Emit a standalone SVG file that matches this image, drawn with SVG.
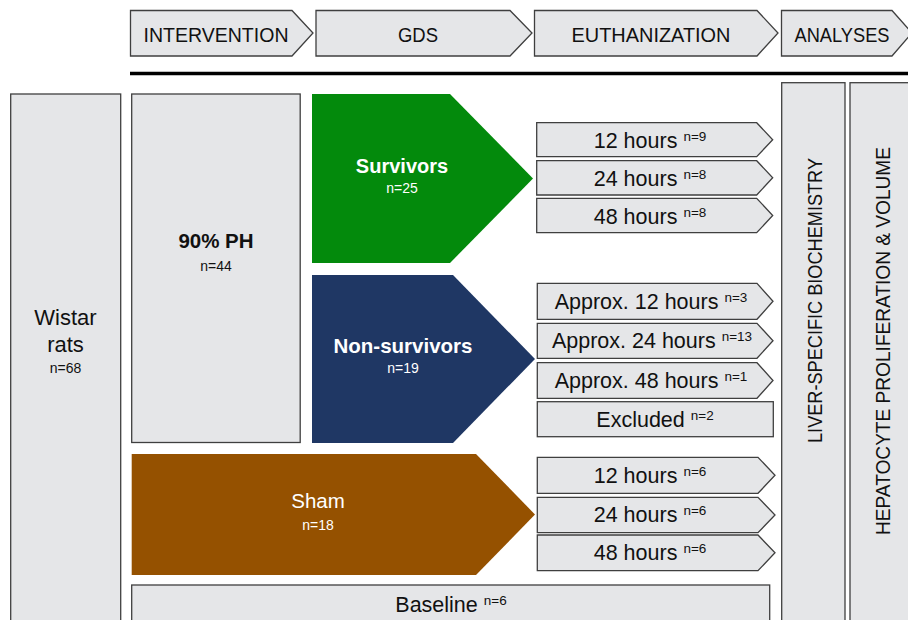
<svg xmlns="http://www.w3.org/2000/svg" width="908" height="620" viewBox="0 0 908 620">
<style>
.box{fill:#e5e6e8;stroke:#3f3f3f;stroke-width:1.3}
text{font-family:"Liberation Sans",Arial,sans-serif;fill:#111}
.hd{font-size:20.5px;text-anchor:middle}
.lb{font-size:21.5px;text-anchor:middle}
.sup{font-size:13.5px}
.big{font-size:22px;text-anchor:middle}
.n{font-size:14px;text-anchor:middle}
.w{fill:#fff}
.b{font-weight:bold}
.vt{font-size:20.5px;text-anchor:middle}
</style>
<rect width="908" height="620" fill="#fff"/>
<g id="hdr-intervention"><polygon class="box" points="130.5,10.5 292,10.5 313,33 292,56 130.5,56"/><text class="hd" x="216" y="42" textLength="145" lengthAdjust="spacingAndGlyphs">INTERVENTION</text></g>
<g id="hdr-gds"><polygon class="box" points="316,10.5 510,10.5 532,33 510,56 316,56"/><text class="hd" x="418" y="42" textLength="40" lengthAdjust="spacingAndGlyphs">GDS</text></g>
<g id="hdr-euth"><polygon class="box" points="534.5,10.5 757,10.5 778,33 757,56 534.5,56"/><text class="hd" x="651" y="42" textLength="159" lengthAdjust="spacingAndGlyphs">EUTHANIZATION</text></g>
<g id="hdr-analyses"><polygon class="box" points="781.5,10.5 892,10.5 912,33 892,56 781.5,56"/><text class="hd" x="842" y="42" textLength="95" lengthAdjust="spacingAndGlyphs">ANALYSES</text></g>
<g id="connectors"><line x1="130" y1="73.5" x2="908" y2="73.5" stroke="#000" stroke-width="3.5"/></g>
<g id="wistar"><rect class="box" x="10.7" y="94" width="110" height="540"/><text class="big" x="65.5" y="325">Wistar</text><text class="big" x="65.5" y="352">rats</text><text class="n" x="65.5" y="373">n=68</text></g>
<g id="ph90"><rect class="box" x="131.7" y="94" width="168.5" height="348.5"/><text class="big b" x="216" y="248" style="font-size:20.5px">90% PH</text><text class="n" x="216" y="271">n=44</text></g>
<g id="survivors"><polygon fill="#038a0c" points="312,94 450,94 533,178.5 450,263 312,263"/><text class="big b w" x="402" y="173" style="font-size:20px">Survivors</text><text class="n w" x="402" y="193">n=25</text></g>
<g id="nonsurvivors"><polygon fill="#1f3764" points="312,275 453,275 535,359 453,443 312,443"/><text class="big b w" x="403" y="353" style="font-size:20.5px">Non-survivors</text><text class="n w" x="403" y="373">n=19</text></g>
<g id="sham"><polygon fill="#955100" points="131.7,454 476,454 535,514.5 476,575 131.7,575"/><text class="big w" x="318" y="508" style="font-size:20.5px">Sham</text><text class="n w" x="318" y="530">n=18</text></g>
<g id="baseline"><rect class="box" x="131.7" y="585" width="638" height="50"/><text class="lb" x="451" y="612">Baseline <tspan class="sup" dy="-7">n=6</tspan></text></g>
<g id="s12"><polygon class="box" points="536.7,122.7 756.7,122.7 772.7,139.7 756.7,156.7 536.7,156.7"/><text class="lb" x="650" y="148">12 hours <tspan class="sup" dy="-7">n=9</tspan></text></g>
<g id="s24"><polygon class="box" points="536.7,160.7 756.7,160.7 772.7,177.8 756.7,195 536.7,195"/><text class="lb" x="650" y="186">24 hours <tspan class="sup" dy="-7">n=8</tspan></text></g>
<g id="s48"><polygon class="box" points="536.7,198.3 756.7,198.3 772.7,215.5 756.7,232.7 536.7,232.7"/><text class="lb" x="650" y="224">48 hours <tspan class="sup" dy="-7">n=8</tspan></text></g>
<g id="n12"><polygon class="box" points="537.3,283.3 757,283.3 773,301.3 757,319.3 537.3,319.3"/><text class="lb" x="651" y="309">Approx. 12 hours <tspan class="sup" dy="-7">n=3</tspan></text></g>
<g id="n24"><polygon class="box" points="537.3,323.3 757,323.3 773,340.8 757,358.3 537.3,358.3"/><text class="lb" x="652" y="348">Approx. 24 hours <tspan class="sup" dy="-7">n=13</tspan></text></g>
<g id="n48"><polygon class="box" points="537.3,362.7 757,362.7 773,380.5 757,398.3 537.3,398.3"/><text class="lb" x="651" y="388">Approx. 48 hours <tspan class="sup" dy="-7">n=1</tspan></text></g>
<g id="excluded"><rect class="box" x="537.3" y="401.7" width="236" height="35"/><text class="lb" x="655" y="427">Excluded <tspan class="sup" dy="-7">n=2</tspan></text></g>
<g id="h12"><polygon class="box" points="537.3,457.3 758,457.3 775,475.3 758,493.3 537.3,493.3"/><text class="lb" x="650" y="483">12 hours <tspan class="sup" dy="-7">n=6</tspan></text></g>
<g id="h24"><polygon class="box" points="537.3,497.3 758,497.3 775,515 758,532.7 537.3,532.7"/><text class="lb" x="650" y="522">24 hours <tspan class="sup" dy="-7">n=6</tspan></text></g>
<g id="h48"><polygon class="box" points="537.3,535 758,535 775,552.8 758,570.7 537.3,570.7"/><text class="lb" x="650" y="560">48 hours <tspan class="sup" dy="-7">n=6</tspan></text></g>
<g id="liver"><rect class="box" x="781.7" y="82.7" width="63.3" height="560"/><text class="vt" transform="translate(822,300.5) rotate(-90)" textLength="285" lengthAdjust="spacingAndGlyphs">LIVER-SPECIFIC BIOCHEMISTRY</text></g>
<g id="hepatocyte"><rect class="box" x="850" y="82.7" width="70" height="560"/><text class="vt" transform="translate(890,341) rotate(-90)" textLength="388" lengthAdjust="spacingAndGlyphs">HEPATOCYTE PROLIFERATION &amp; VOLUME</text></g>
</svg>
